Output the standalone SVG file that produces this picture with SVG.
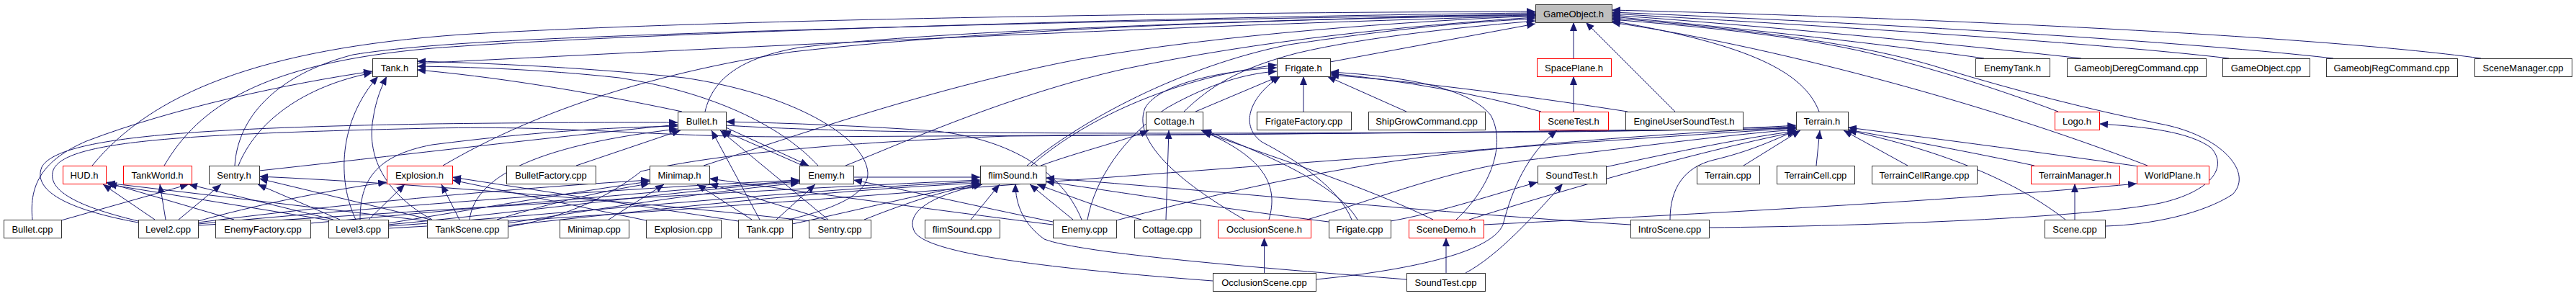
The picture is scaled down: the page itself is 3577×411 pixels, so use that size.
<svg xmlns="http://www.w3.org/2000/svg" width="3577" height="411" viewBox="0 0 3577 411">
<style>
.n rect{fill:#fff;stroke:#333;stroke-width:1}
.r rect{stroke:#f00}
.g rect{fill:#bfbfbf}
.n text{font-family:"Liberation Sans",Arial,sans-serif;font-size:13px;text-anchor:middle;fill:#000}
.e path{fill:none;stroke:#191970;stroke-width:1;marker-end:url(#ah)}
</style>
<defs>
<marker id="ah" markerUnits="userSpaceOnUse" markerWidth="12" markerHeight="10" refX="12" refY="5" orient="auto"><path d="M0,0 L12,5 L0,10 z" fill="#191970" stroke="none"/></marker>
</defs>
<rect width="3577" height="411" fill="#fff"/>
<g id="edges" class="e">
<path d="M45,305 C40,255 60,222 120,196 C240,150 400,116 517,99"/>
<path d="M128,230 C210,130 360,68 640,48 C1000,26 1700,17 2132,16"/>
<path d="M228,230 C275,150 360,88 600,67 C900,44 1700,22 2132,18"/>
<path d="M326,230 C330,165 380,105 490,76 C600,58 800,52 1000,45 C1400,32 1800,24 2132,20"/>
<path d="M331,230 C355,170 420,120 517,101"/>
<path d="M579,88 C900,72 1600,36 2132,22"/>
<path d="M979,155 C990,108 1030,80 1110,66 C1300,42 1800,26 2132,20"/>
<path d="M615,230 C700,180 850,110 1100,72 C1400,38 1800,26 2132,21"/>
<path d="M977,230 C1100,190 1300,120 1500,82 C1700,47 1950,30 2132,22"/>
<path d="M1174,230 C1250,200 1400,132 1560,96 C1750,56 1950,36 2132,24"/>
<path d="M1426,230 C1500,168 1640,92 1790,62 C1950,38 2050,30 2132,26"/>
<path d="M1644,155 C1680,120 1720,95 1800,74 C1900,50 2050,36 2132,29"/>
<path d="M1847,86 L2132,33"/>
<path d="M2185,81 L2185,31"/>
<path d="M2326,155 L2202,31"/>
<path d="M2526,155 C2505,100 2430,62 2238,29"/>
<path d="M2755,81 C2650,66 2450,42 2238,23"/>
<path d="M2890,81 C2700,60 2450,36 2238,21"/>
<path d="M3095,81 C2900,58 2500,34 2238,19"/>
<path d="M3240,81 C3000,54 2550,30 2238,17"/>
<path d="M3445,81 C3200,48 2650,24 2238,14"/>
<path d="M2858,155 C2760,118 2660,88 2580,70 C2480,48 2350,36 2238,27"/>
<path d="M2982,230 C2750,140 2450,62 2238,31"/>
<path d="M2923,314 C2990,312 3060,296 3100,270 C3130,240 3085,188 3000,172 C2900,152 2800,126 2700,96 C2600,64 2450,42 2238,25"/>
<path d="M2373,316 C2600,314 2900,302 3000,282 C3070,266 3095,232 3070,205 C3040,183 2980,176 2915,172"/>
<path d="M494,305 C468,250 470,168 525,106"/>
<path d="M600,305 C540,272 508,222 518,165 C522,138 530,120 537,106"/>
<path d="M947,155 C800,124 680,106 579,97"/>
<path d="M1136,230 C1090,180 1000,130 860,108 C750,96 650,93 579,92"/>
<path d="M1095,305 C1150,292 1206,272 1205,240 C1202,190 1100,130 950,108 C800,92 650,87 579,85"/>
<path d="M192,309 C120,296 42,272 58,232 C80,192 250,178 600,172 C760,170 860,170 941,170"/>
<path d="M500,305 C500,252 520,216 600,201 C750,182 850,177 941,175"/>
<path d="M360,237 C500,222 750,192 941,173"/>
<path d="M652,305 C660,240 760,200 941,179"/>
<path d="M800,230 L945,181"/>
<path d="M1055,305 L988,181"/>
<path d="M1150,305 L1000,181"/>
<path d="M1115,230 L1003,181"/>
<path d="M1008,177 L1123,230"/>
<path d="M1502,305 C1480,250 1420,196 1300,182 C1200,175 1100,171 1008,169"/>
<path d="M1008,174 C1200,186 1500,186 2000,184 C2300,183 2420,179 2494,174"/>
<path d="M192,307 C130,292 62,270 74,236 C90,196 250,186 600,178 C800,174 900,190 1100,190 C1500,188 2200,184 2494,176"/>
<path d="M215,305 L143,256"/>
<path d="M230,305 L222,256"/>
<path d="M248,305 L307,256"/>
<path d="M275,307 C350,286 450,265 537,253"/>
<path d="M275,309 C450,286 700,262 902,250"/>
<path d="M275,311 C500,290 850,262 1110,250"/>
<path d="M275,313 C600,292 1000,266 1361,250"/>
<path d="M458,306 L150,256"/>
<path d="M463,305 L262,256"/>
<path d="M472,305 L358,256"/>
<path d="M512,305 L562,256"/>
<path d="M539,310 C650,292 800,266 902,252"/>
<path d="M539,312 C750,292 950,264 1110,252"/>
<path d="M539,314 C800,296 1100,264 1361,252"/>
<path d="M539,317 C1000,292 1800,222 2494,178"/>
<path d="M595,307 L148,254"/>
<path d="M598,305 L360,248"/>
<path d="M638,305 L613,256"/>
<path d="M690,305 C750,286 830,266 902,255"/>
<path d="M705,310 C850,287 1000,264 1110,254"/>
<path d="M705,313 C900,292 1150,264 1361,254"/>
<path d="M705,315 C800,300 860,262 890,238 C1000,212 1200,196 1400,189 C1800,186 2300,182 2494,178"/>
<path d="M325,305 L147,253"/>
<path d="M431,310 C650,290 900,266 1110,251"/>
<path d="M845,305 L922,256"/>
<path d="M897,306 L628,250"/>
<path d="M1044,305 L968,256"/>
<path d="M1078,305 L1132,256"/>
<path d="M1025,307 L628,246"/>
<path d="M1100,311 C1200,290 1300,264 1361,255"/>
<path d="M1150,306 L985,255"/>
<path d="M1125,307 C900,282 600,256 360,245"/>
<path d="M1200,305 C1250,285 1310,264 1361,256"/>
<path d="M1348,305 L1388,256"/>
<path d="M1462,308 C1350,285 1250,262 1185,250"/>
<path d="M1490,305 L1430,256"/>
<path d="M1510,305 C1520,250 1560,190 1620,150 C1680,116 1730,102 1773,99"/>
<path d="M1462,312 C1300,292 1100,264 985,248"/>
<path d="M1550,306 C1650,280 1800,240 2000,215 C2200,192 2400,181 2494,177"/>
<path d="M1185,246 L1361,246"/>
<path d="M1619,305 L1623,181"/>
<path d="M1585,305 C1530,290 1480,270 1440,256"/>
<path d="M1762,305 C1775,260 1760,220 1668,181"/>
<path d="M1728,305 C1650,260 1570,200 1590,150 C1610,115 1700,98 1773,94"/>
<path d="M1815,305 C1900,280 2000,240 2100,225 C2300,200 2420,185 2494,180"/>
<path d="M1877,305 C1860,262 1800,222 1752,197 C1718,172 1740,130 1778,106"/>
<path d="M1885,305 C1860,262 1780,222 1670,180"/>
<path d="M1845,308 C1700,290 1550,266 1452,252"/>
<path d="M1931,307 C2000,295 2080,268 2135,253"/>
<path d="M2022,305 C2070,260 2092,200 2070,160 C2040,122 1950,106 1847,100"/>
<path d="M1990,305 C1900,260 1750,212 1670,183"/>
<path d="M2060,312 C2300,300 2700,280 2967,255"/>
<path d="M2040,305 C2150,270 2350,212 2494,183"/>
<path d="M2319,305 C2319,262 2338,232 2380,222 C2430,210 2460,196 2494,181"/>
<path d="M2264,312 C2000,296 1700,266 1452,247"/>
<path d="M2229,232 C2330,210 2430,190 2494,182"/>
<path d="M1660,155 L1776,106"/>
<path d="M1432,230 C1500,170 1620,110 1773,90"/>
<path d="M1810,155 L1810,106"/>
<path d="M1953,155 L1843,106"/>
<path d="M2140,155 C2050,130 1950,112 1847,102"/>
<path d="M2260,155 C2100,130 1950,112 1847,104"/>
<path d="M2185,155 L2185,106"/>
<path d="M2008,379 L2008,330"/>
<path d="M2035,379 C2080,355 2130,300 2170,255"/>
<path d="M1953,388 C1750,372 1500,352 1450,332 C1422,312 1410,285 1410,255"/>
<path d="M1684,390 C1500,376 1290,356 1270,322 C1255,292 1300,270 1364,256"/>
<path d="M1755.5,379 L1755.5,330"/>
<path d="M1827,388 C1950,376 2070,352 2087,312 C2100,262 2120,215 2162,181"/>
<path d="M1445,230 C1500,210 1560,196 1595,181"/>
<path d="M2881,305 L2881,255"/>
<path d="M2868,305 C2800,252 2700,210 2566,181"/>
<path d="M2825,230 C2750,214 2650,195 2566,180"/>
<path d="M2970,231 C2850,214 2700,194 2566,177"/>
<path d="M2421,230 L2500,181"/>
<path d="M2522,230 L2527,181"/>
<path d="M2649,230 L2560,181"/>
<path d="M85,306 L262,256"/>
</g>
<g id="n_go" class="n g"><rect x="2132.5" y="6.5" width="106" height="25"/><text x="2185" y="23.5">GameObject.h</text></g>
<g id="n_tankh" class="n"><rect x="517.5" y="81.5" width="62" height="25"/><text x="548" y="98.5">Tank.h</text></g>
<g id="n_frigateh" class="n"><rect x="1773.5" y="81.5" width="74" height="25"/><text x="1810" y="98.5">Frigate.h</text></g>
<g id="n_spaceplaneh" class="n r"><rect x="2134.5" y="81.5" width="103" height="25"/><text x="2185.5" y="98.5">SpacePlane.h</text></g>
<g id="n_enemytankh" class="n"><rect x="2743.5" y="81.5" width="103" height="25"/><text x="2794.5" y="98.5">EnemyTank.h</text></g>
<g id="n_deregcpp" class="n"><rect x="2870.5" y="81.5" width="193" height="25"/><text x="2966.5" y="98.5">GameobjDeregCommand.cpp</text></g>
<g id="n_gameobjectcpp" class="n"><rect x="3086.5" y="81.5" width="121" height="25"/><text x="3146.5" y="98.5">GameObject.cpp</text></g>
<g id="n_regcpp" class="n"><rect x="3230.5" y="81.5" width="182" height="25"/><text x="3321" y="98.5">GameobjRegCommand.cpp</text></g>
<g id="n_scenemanagercpp" class="n"><rect x="3436.5" y="81.5" width="135" height="25"/><text x="3503.5" y="98.5">SceneManager.cpp</text></g>
<g id="n_bulleth" class="n"><rect x="941.5" y="155.5" width="67" height="25"/><text x="974.5" y="172.5">Bullet.h</text></g>
<g id="n_cottageh" class="n"><rect x="1591.5" y="155.5" width="79" height="25"/><text x="1630.5" y="172.5">Cottage.h</text></g>
<g id="n_frigatefactorycpp" class="n"><rect x="1745.5" y="155.5" width="131" height="25"/><text x="1810.5" y="172.5">FrigateFactory.cpp</text></g>
<g id="n_shipgrowcpp" class="n"><rect x="1900.5" y="155.5" width="162" height="25"/><text x="1981" y="172.5">ShipGrowCommand.cpp</text></g>
<g id="n_scenetesth" class="n r"><rect x="2137.5" y="155.5" width="96" height="25"/><text x="2185" y="172.5">SceneTest.h</text></g>
<g id="n_eusth" class="n"><rect x="2257.5" y="155.5" width="163" height="25"/><text x="2338.5" y="172.5">EngineUserSoundTest.h</text></g>
<g id="n_terrainh" class="n"><rect x="2494.5" y="155.5" width="72" height="25"/><text x="2530" y="172.5">Terrain.h</text></g>
<g id="n_logoh" class="n r"><rect x="2853.5" y="155.5" width="62" height="25"/><text x="2884" y="172.5">Logo.h</text></g>
<g id="n_hudh" class="n r"><rect x="87.5" y="230.5" width="60" height="25"/><text x="117" y="247.5">HUD.h</text></g>
<g id="n_tankworldh" class="n r"><rect x="171.5" y="230.5" width="95" height="25"/><text x="218.5" y="247.5">TankWorld.h</text></g>
<g id="n_sentryh" class="n"><rect x="290.5" y="230.5" width="70" height="25"/><text x="325" y="247.5">Sentry.h</text></g>
<g id="n_explosionh" class="n r"><rect x="537.5" y="230.5" width="91" height="25"/><text x="582.5" y="247.5">Explosion.h</text></g>
<g id="n_bulletfactorycpp" class="n"><rect x="703.5" y="230.5" width="124" height="25"/><text x="765" y="247.5">BulletFactory.cpp</text></g>
<g id="n_minimaph" class="n"><rect x="902.5" y="230.5" width="83" height="25"/><text x="943.5" y="247.5">Minimap.h</text></g>
<g id="n_enemyh" class="n"><rect x="1110.5" y="230.5" width="75" height="25"/><text x="1147.5" y="247.5">Enemy.h</text></g>
<g id="n_flimsoundh" class="n"><rect x="1361.5" y="230.5" width="91" height="25"/><text x="1406.5" y="247.5">flimSound.h</text></g>
<g id="n_soundtesth" class="n"><rect x="2135.5" y="230.5" width="95" height="25"/><text x="2182.5" y="247.5">SoundTest.h</text></g>
<g id="n_terraincpp" class="n"><rect x="2356.5" y="230.5" width="87" height="25"/><text x="2399.5" y="247.5">Terrain.cpp</text></g>
<g id="n_terraincellcpp" class="n"><rect x="2467.5" y="230.5" width="108" height="25"/><text x="2521" y="247.5">TerrainCell.cpp</text></g>
<g id="n_terraincellrangecpp" class="n"><rect x="2599.5" y="230.5" width="146" height="25"/><text x="2672" y="247.5">TerrainCellRange.cpp</text></g>
<g id="n_terrainmanagerh" class="n r"><rect x="2820.5" y="230.5" width="123" height="25"/><text x="2881.5" y="247.5">TerrainManager.h</text></g>
<g id="n_worldplaneh" class="n r"><rect x="2967.5" y="230.5" width="100" height="25"/><text x="3017" y="247.5">WorldPlane.h</text></g>
<g id="n_bulletcpp" class="n"><rect x="5.5" y="305.5" width="80" height="25"/><text x="45" y="322.5">Bullet.cpp</text></g>
<g id="n_level2cpp" class="n"><rect x="192.5" y="305.5" width="83" height="25"/><text x="233.5" y="322.5">Level2.cpp</text></g>
<g id="n_enemyfactorycpp" class="n"><rect x="299.5" y="305.5" width="132" height="25"/><text x="365" y="322.5">EnemyFactory.cpp</text></g>
<g id="n_level3cpp" class="n"><rect x="456.5" y="305.5" width="83" height="25"/><text x="497.5" y="322.5">Level3.cpp</text></g>
<g id="n_tankscenecpp" class="n"><rect x="593.5" y="305.5" width="112" height="25"/><text x="649" y="322.5">TankScene.cpp</text></g>
<g id="n_minimapcpp" class="n"><rect x="777.5" y="305.5" width="96" height="25"/><text x="825" y="322.5">Minimap.cpp</text></g>
<g id="n_explosioncpp" class="n"><rect x="897.5" y="305.5" width="104" height="25"/><text x="949" y="322.5">Explosion.cpp</text></g>
<g id="n_tankcpp" class="n"><rect x="1025.5" y="305.5" width="75" height="25"/><text x="1062.5" y="322.5">Tank.cpp</text></g>
<g id="n_sentrycpp" class="n"><rect x="1123.5" y="305.5" width="86" height="25"/><text x="1166" y="322.5">Sentry.cpp</text></g>
<g id="n_flimsoundcpp" class="n"><rect x="1284.5" y="305.5" width="104" height="25"/><text x="1336" y="322.5">flimSound.cpp</text></g>
<g id="n_enemycpp" class="n"><rect x="1462.5" y="305.5" width="88" height="25"/><text x="1506" y="322.5">Enemy.cpp</text></g>
<g id="n_cottagecpp" class="n"><rect x="1575.5" y="305.5" width="92" height="25"/><text x="1621" y="322.5">Cottage.cpp</text></g>
<g id="n_occlusionsceneh" class="n r"><rect x="1691.5" y="305.5" width="129" height="25"/><text x="1755.5" y="322.5">OcclusionScene.h</text></g>
<g id="n_frigatecpp" class="n"><rect x="1845.5" y="305.5" width="86" height="25"/><text x="1888" y="322.5">Frigate.cpp</text></g>
<g id="n_scenedemoh" class="n r"><rect x="1956.5" y="305.5" width="104" height="25"/><text x="2008" y="322.5">SceneDemo.h</text></g>
<g id="n_introscenecpp" class="n"><rect x="2264.5" y="305.5" width="109" height="25"/><text x="2318.5" y="322.5">IntroScene.cpp</text></g>
<g id="n_scenecpp" class="n"><rect x="2839.5" y="305.5" width="84" height="25"/><text x="2881" y="322.5">Scene.cpp</text></g>
<g id="n_occlusionscenecpp" class="n"><rect x="1684.5" y="379.5" width="143" height="25"/><text x="1755.5" y="396.5">OcclusionScene.cpp</text></g>
<g id="n_soundtestcpp" class="n"><rect x="1953.5" y="379.5" width="109" height="25"/><text x="2007.5" y="396.5">SoundTest.cpp</text></g>
</svg>
